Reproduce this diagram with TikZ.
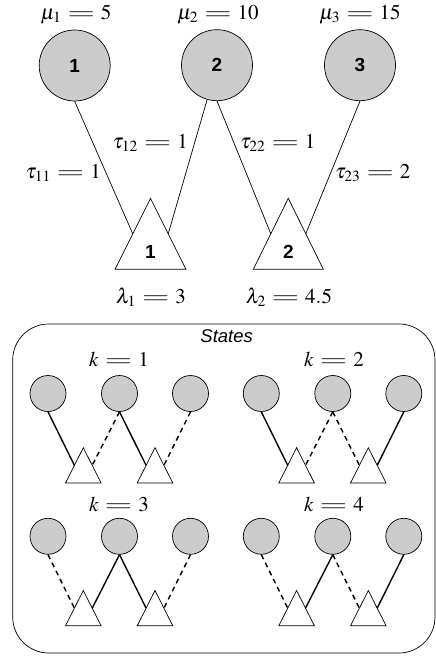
\documentclass[tikz,border=0pt]{standalone}
\usepackage[no-math]{fontspec}
\usepackage{mathptmx}
\usepackage{graphicx}
\usetikzlibrary{calc}
\newfontfamily\hv{Liberation Sans}
\newcommand\weq{\mathrel{\mkern1mu\scalebox{1.7}[1]{$=$}\mkern1mu}}
\newcommand\stateW[7]{%
  \node[smc] (#1a) at (#2,#3) {};
  \node[smc] (#1b) at ({#2+71.5},#3) {};
  \node[smc] (#1c) at ({#2+142.5},#3) {};
  \coordinate (#1pa) at ({#2+35.3},{#3+54.2});
  \coordinate (#1pl) at ({#2+35.3-17.8},{#3+89.5});
  \coordinate (#1pr) at ({#2+35.3+17.8},{#3+89.5});
  \coordinate (#1qa) at ({#2+107},{#3+54.2});
  \coordinate (#1ql) at ({#2+107-17.8},{#3+89.5});
  \coordinate (#1qr) at ({#2+107+17.8},{#3+89.5});
  \coordinate (#1pm) at ($(#1pa)!0.5!(#1pl)$);
  \coordinate (#1pn) at ($(#1pa)!0.5!(#1pr)$);
  \coordinate (#1qm) at ($(#1qa)!0.5!(#1ql)$);
  \coordinate (#1qn) at ($(#1qa)!0.5!(#1qr)$);
  \draw[smtri] (#1pa) -- (#1pl) -- (#1pr) -- cycle;
  \draw[smtri] (#1qa) -- (#1ql) -- (#1qr) -- cycle;
  \draw[#4] (#1a.south) -- (#1pm);
  \draw[#5] (#1b.south) -- (#1pn);
  \draw[#6] (#1b.south) -- (#1qm);
  \draw[#7] (#1c.south) -- (#1qn);
}
\begin{document}
\begin{tikzpicture}[x=1pt,y=-1pt,
  bigc/.style={circle,draw,fill=black!20,minimum size=71pt,inner sep=0pt,line width=0.7pt,font=\hv\bfseries\fontsize{19}{22}\selectfont},
  smc/.style={circle,draw,fill=black!20,minimum size=36pt,inner sep=0pt,line width=0.7pt},
  bigtri/.style={draw,fill=white,line width=0.7pt,line join=miter},
  smtri/.style={draw,fill=white,line width=0.7pt},
  trilab/.style={inner sep=0pt,font=\hv\bfseries\fontsize{19}{22}\selectfont},
  thinc/.style={line width=0.7pt},
  solidc/.style={line width=1.4pt},
  dashc/.style={line width=1.4pt,dash pattern=on 5pt off 4pt},
  mlab/.style={inner sep=0pt,anchor=base,font=\fontsize{21}{25}\selectfont},
  klab/.style={inner sep=0pt,anchor=base,font=\fontsize{21}{25}\selectfont},
]
\useasboundingbox (0,0) rectangle (436,656);
% top part
\node[bigc] (c1) at (74.7,65.5) {1};
\node[bigc] (c2) at (217,65.2) {2};
\node[bigc] (c3) at (360,65.2) {3};
\coordinate (t1a) at (150.5,198.3);
\coordinate (t1l) at (115,269.3);
\coordinate (t1r) at (186,269.3);
\coordinate (t2a) at (288.3,198.3);
\coordinate (t2l) at (253.3,269.3);
\coordinate (t2r) at (323.3,269.3);
\coordinate (t1m) at ($(t1a)!0.5!(t1l)$);
\coordinate (t1n) at ($(t1a)!0.5!(t1r)$);
\coordinate (t2m) at ($(t2a)!0.5!(t2l)$);
\coordinate (t2n) at ($(t2a)!0.5!(t2r)$);
\draw[bigtri] (t1a) -- (t1l) -- (t1r) -- cycle;
\draw[bigtri] (t2a) -- (t2l) -- (t2r) -- cycle;
\node[trilab] (n1) at (150.5,252) {1};
\node[trilab] (n2) at (288.3,252) {2};
\draw[thinc] (c1.south) -- (t1m);
\draw[thinc] (c2.-106) -- (t1n);
\draw[thinc] (c2.south) -- (t2m);
\draw[thinc] (c3.south) -- (t2n);
\node[mlab] (mu1) at (76,19.5) {$\mu_1 \weq 5$};
\node[mlab] (mu2) at (218,19.5) {$\mu_2 \weq 10$};
\node[mlab] (mu3) at (360,19.5) {$\mu_3 \weq 15$};
\node[mlab,anchor=base east] (ta11) at (101,178.3) {$\tau_{11} \weq 1$};
\node[mlab,anchor=base east] (ta12) at (188,148.3) {$\tau_{12} \weq 1$};
\node[mlab,anchor=base west] (ta22) at (240,148.3) {$\tau_{22} \weq 1$};
\node[mlab,anchor=base west] (ta23) at (335,178.3) {$\tau_{23} \weq 2$};
\node[mlab] (la1) at (151,303.3) {$\lambda_1 \weq 3$};
\node[mlab] (la2) at (289,303.3) {$\lambda_2 \weq 4.5$};
% states box
\draw[line width=0.7pt,rounded corners=36pt] (12.7,324) rectangle (435,653);
\node[inner sep=0pt,anchor=base,font=\hv\itshape\fontsize{18.5}{22}\selectfont] (st) at (226.7,342.7) {States};
\node[klab] (k1) at (119,366.7) {$k \weq 1$};
\node[klab] (k2) at (334,366.7) {$k \weq 2$};
\node[klab] (k3) at (119,511.7) {$k \weq 3$};
\node[klab] (k4) at (334,511.7) {$k \weq 4$};
\stateW{s1}{48}{393.5}{solidc}{dashc}{solidc}{dashc}
\stateW{s2}{261.3}{393.5}{solidc}{dashc}{dashc}{solidc}
\stateW{s3}{48}{536.3}{dashc}{solidc}{solidc}{dashc}
\stateW{s4}{261.3}{536.3}{dashc}{solidc}{dashc}{solidc}
\end{tikzpicture}
\end{document}
